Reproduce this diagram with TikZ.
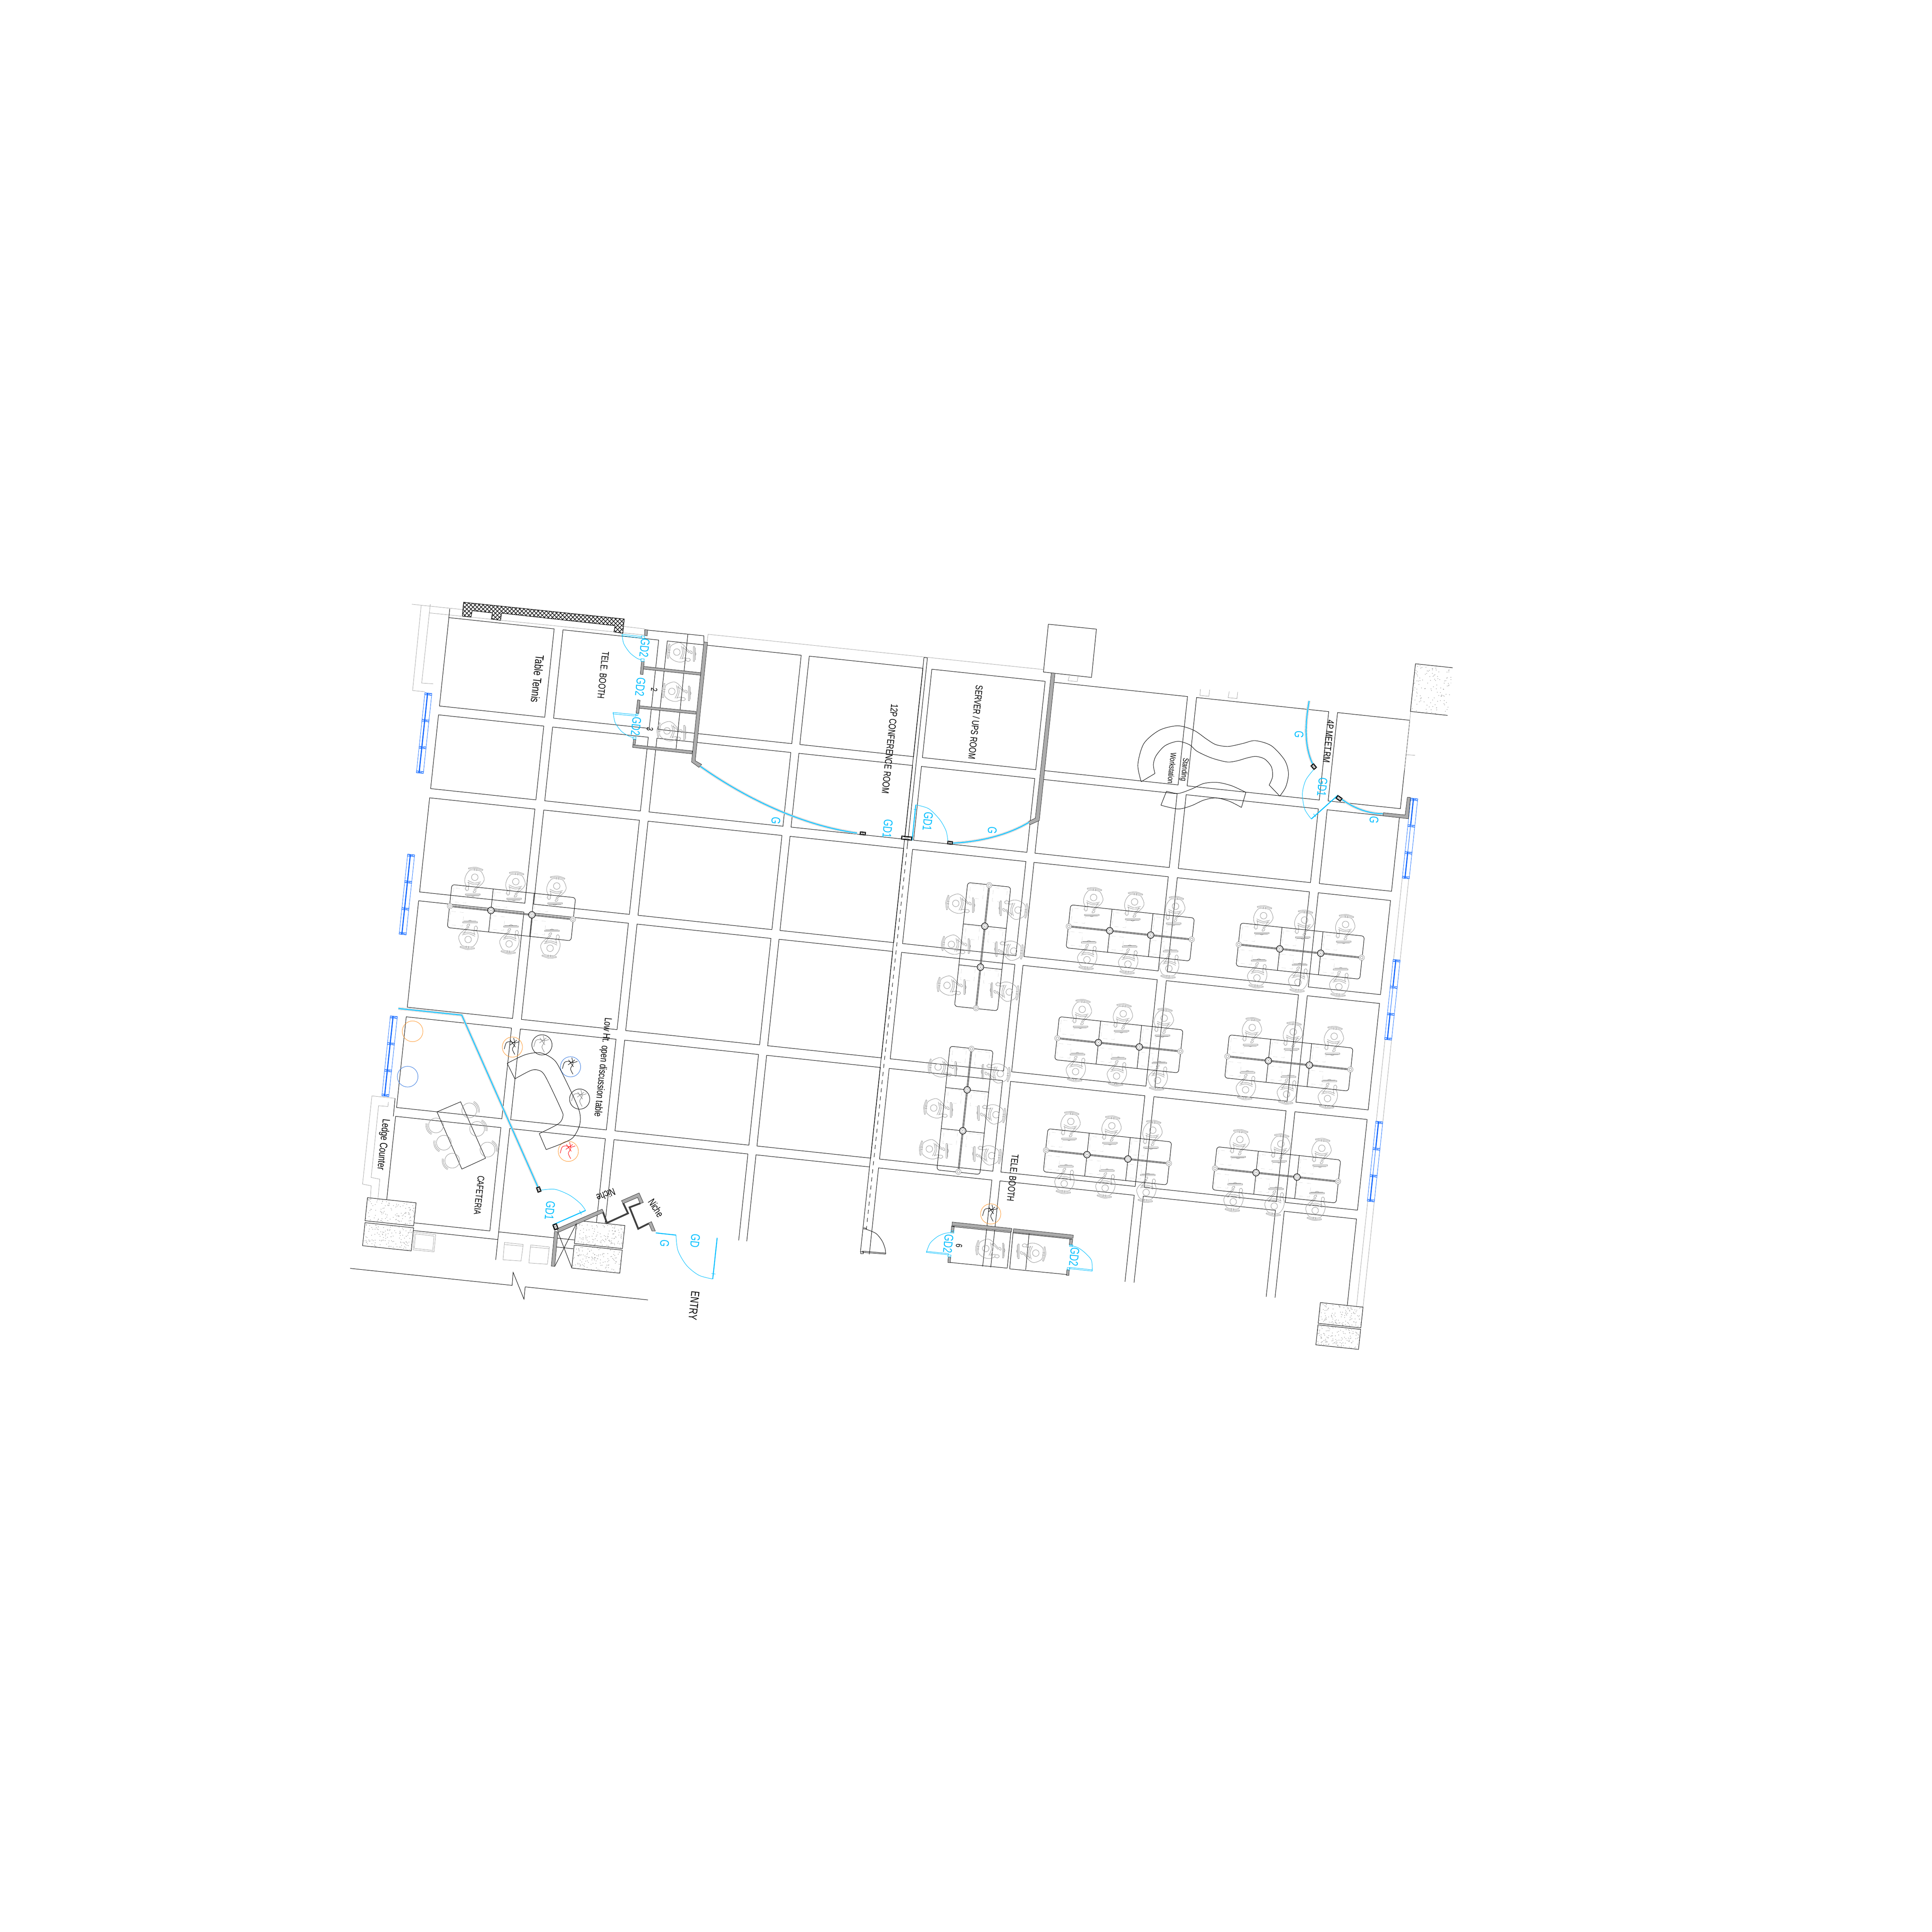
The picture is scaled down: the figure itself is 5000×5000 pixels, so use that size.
\documentclass[tikz,border=0pt]{standalone}
\usepackage{fontspec}
\setmainfont{Liberation Sans}
\usepackage{graphicx}
\usetikzlibrary{patterns}
\definecolor{glasscyan}{HTML}{00BFFF}
\definecolor{windowblue}{HTML}{0A64FF}
\definecolor{tuborange}{HTML}{FF9A33}
\definecolor{tubblue}{HTML}{3A7BE0}
\newcommand{\cadtext}[2]{{\fontsize{#1}{#1}\selectfont\scalebox{.73}[1]{#2}}}
\newcommand{\glassrun}[1]{\draw[glassedge] #1; \draw[glasscore] #1;}
\newcommand{\postbox}[4]{\begin{scope}[shift={(#1)},rotate=#4]
  \draw[postline] (-#2,-#3) rectangle (#2,#3);
  \draw[figureline] (-#2,-#3) -- (#2,#3) (-#2,#3) -- (#2,-#3);
\end{scope}}
\newcommand{\stoneblock}[4]{\begin{scope}
  \clip (#1,#2) rectangle ++(#3,#4);
  \foreach \n in {1,...,130}{
    \pgfmathsetmacro{\su}{#1+rnd*#3}
    \pgfmathsetmacro{\sv}{#2+rnd*#4}
    \fill[gray!85] (\su,\sv) circle (1);
  }
\end{scope}}
\newcommand{\winstrip}[3]{
  \draw[windowline] (#1-9,#2) rectangle (#1+9,#2+208);
  \draw[windowline,line width=.8pt] (#1-2,#2) -- (#1-2,#2+69);
  \draw[windowline,line width=#3] (#1-2,#2+69) -- (#1-2,#2+139);
  \draw[windowline,line width=.8pt] (#1-2,#2+139) -- (#1-2,#2+208);
  \foreach \j in {0,69,139,203}{
    \draw[windowline] (#1-9,#2+\j) rectangle (#1+9,#2+\j+5);
    \draw[windowline] (#1-9,#2+\j) -- (#1+9,#2+\j+5) (#1-9,#2+\j+5) -- (#1+9,#2+\j);
  }
}
\newcommand{\person}[3]{\begin{scope}[shift={(#1,#2)},rotate=#3]
  \draw[figureline] plot[smooth] coordinates {(-19,-28) (0,-32) (19,-28)};
  \draw[figureline] plot[smooth] coordinates {(-18,-25.5) (0,-29) (18,-25.5)};
  \draw[figureline] (-19,-28) -- (-18,-25.5) (19,-28) -- (18,-25.5);
  \draw[figureline] (-3,-29) -- (-3,-23) (3,-29) -- (3,-23);
  \draw[figureline] plot[smooth] coordinates {(-19,20) (-24,10) (-25,0) (-22,-12) (-14,-23) (0,-25) (14,-23) (22,-12) (25,-2) (21,8) (12,18) (4,27)};
  \draw[figureline] plot[smooth] coordinates {(13,7) (9,16) (1,26)};
  \draw[figureline] (-15,8) -- (-12,20);
  \draw[figureline] (0,-6) circle (8.5);
  \draw[figureline] plot[smooth] coordinates {(-17,4) (0,9) (17,4)};
  \draw[figureline] plot[smooth] coordinates {(-17,9) (0,13) (16,9)};
  \draw[figureline] plot[smooth cycle] coordinates {(-19,20) (-21,26) (-17,31) (-13,28) (-14,20)};
  \draw[figureline] plot[smooth] coordinates {(4,27) (0,31) (1,34) (6,32) (7,27)};
  \begin{scope}[rotate around={6.1:(0,39)}]
    \draw[figureline] (-19,37.5) rectangle (19,40.5);
    \draw[figureline] (-16,42) -- (16,42);
    \draw[figureline] (-5,42) -- (0,44) -- (5,42);
  \end{scope}
\end{scope}}
\newcommand{\deskrow}[3]{\begin{scope}[shift={(#1,#2)},rotate=#3]
  \foreach \d in {0,106.7,213.3}{
    \draw[fadedline,dashed] (\d+5,-48) rectangle (\d+40,-12);
    \draw[fadedline,dashed] (\d+3,13) rectangle (\d+38,48);
    \person{\d+56}{-75}{0}
    \person{\d+56}{75}{180}
  }
  \draw[tile,rounded corners=2] (-1,-7) -- (-1,-56) -- (321,-56) -- (321,-7);
  \draw[tile,rounded corners=2] (-1,7) -- (-1,56) -- (321,56) -- (321,7);
  \draw[tile] (106.7,-56) -- (106.7,-8) (213.3,-56) -- (213.3,-8);
  \draw[tile] (106.7,56) -- (106.7,8) (213.3,56) -- (213.3,8);
  \draw[figureline] (0,-2) -- (320,-2) (0,2) -- (320,2);
  \draw[draw=black!70,line width=.3pt] (0,-1) -- (320,-1) (0,1) -- (320,1);
  \draw[figureline,fill=white] (0,0) circle (7);
  \draw[figureline] (0,0) circle (3.5);
  \draw[figureline,fill=white] (320,0) circle (7);
  \draw[figureline] (320,0) circle (3.5);
  \foreach \d in {106.7,213.3}{
    \draw[draw=black,fill=white,line width=.4pt] (\d,0) circle (8.5);
    \draw[figureline] (\d,0) circle (5.5);
    \fill[black] (\d,0) circle (1);
  }
\end{scope}}
\newcommand{\plantmark}[3]{\begin{scope}[shift={(#1,#2)}]
  \draw[#3,line width=.3pt] plot[smooth] coordinates {(-33,8) (-25,-17) (-10,-22) (10,-17) (28,-22)};
  \draw[#3,line width=.3pt] plot[smooth] coordinates {(5,-37) (10,-12) (0,8) (10,30)};
  \draw[#3,line width=.3pt] (-8,-28) -- (12,0) (-10,-8) -- (18,-28);
\end{scope}}
\newcommand{\seatmark}[3]{\begin{scope}[shift={(#1,#2)}]
  \draw[figureline] (0,0) circle (30);
  \draw[figureline] ({#3-38}:36) arc[start angle={#3-38},end angle={#3+38},radius=36];
  \draw[figureline] ({#3-38}:41) arc[start angle={#3-38},end angle={#3+38},radius=41];
\end{scope}}
\tikzset{
  tile/.style={draw=black,line width=.3pt},
  thinwall/.style={draw=gray!75,line width=.25pt},
  figureline/.style={draw=gray!85,line width=.27pt},
  fadedline/.style={draw=gray!30,line width=.2pt},
  wallfill/.style={draw=black!85,fill=gray!65,line width=.25pt},
  nichewall/.style={draw=black!75,line width=1.3pt},
  glassedge/.style={draw=gray!75,line width=.2pt,double=white,double distance=1.3pt},
  glasscore/.style={draw=glasscyan,line width=.7pt},
  doorline/.style={draw=glasscyan,line width=.3pt},
  doorleaf/.style={draw=glasscyan,line width=.7pt},
  postline/.style={draw=black,fill=white,line width=.8pt},
  windowline/.style={draw=windowblue,line width=.25pt},
  planlabel/.style={rotate=-96.1,inner sep=0pt,align=center},
  doorlabel/.style={planlabel,text=glasscyan},
  cropNW/.style={shift={(900,1500)},scale=.63776},
  cropN/.style={shift={(1900,1500)},scale=.63776},
  cropNE/.style={shift={(2900,1600)},scale=.57398},
  cropSW/.style={shift={(900,2500)},scale=.63776},
  cropS/.style={shift={(1900,2500)},scale=.63776},
  cropEntry/.style={shift={(1400,3050)},scale=.33333}
}
\begin{document}
\begin{tikzpicture}[x=0.01cm,y=-0.01cm]
  \useasboundingbox (0,0) rectangle (5000,5000);
  \begin{scope}[rotate=-6.1]
    \foreach \ul/\ur in {1325/1599,1622/1871,1893.5/2242,2263/2559,2582/2877,2898/3247.5,3271/3615,3638/3826}{
      \foreach \vt/\vb in {1466/1696,1719/1911,1935/2180,2203/2480,2505/2741}{
        \draw[tile] (\ul,\vt) rectangle (\ur,\vb);
      }
    }
    \draw[tile] (1325,2990) -- (1325,2764) -- (1599,2764) -- (1599,3033) -- (1402,3033);
    \draw[tile] (1402,3053) -- (1622,3053);
    \draw[tile] (1871,2984) -- (1871,2764) -- (1622,2764) -- (1622,3106);
    \draw[tile] (1622,3033) -- (1819,3033);
    \draw[tile] (1770,3056) -- (1819,3056);
    \draw[tile] (1893.5,2982) -- (1893.5,2764) -- (2242,2764) -- (2242,2989);
    \draw[tile] (2263,2989) -- (2263,2764) -- (2559,2764);
    \draw[tile] (2582,2989) -- (2582,2764) -- (2877,2764) -- (2877,2989);
    \draw[tile] (2898,2989) -- (2898,2764) -- (3247.5,2764) -- (3247.5,2989);
    \draw[tile] (3271,2989) -- (3271,2764) -- (3615,2764) -- (3615,2989);
    \draw[tile] (3638,2989) -- (3638,2764) -- (3826,2764) -- (3826,2989);
    \draw[tile] (2558.5,1438) -- (2558.5,2985);
    \draw[tile] (2558.5,1438) -- (2567.5,1438) -- (2567.5,1925);
    \draw[tile,dashed] (2567.5,1925) -- (2567.5,2925);
    \draw[tile] (2558.5,2925) -- (2567.5,2925);

    \deskrow{1407}{2208}{0}
    \deskrow{3005}{2090}{0}
    \deskrow{3447.5}{2090}{0}
    \deskrow{3006.5}{2381}{0}
    \deskrow{3449}{2381}{0}
    \deskrow{3008}{2672.5}{0}
    \deskrow{3448}{2672.5}{0}
    \deskrow{2789}{2006}{-90}
    \deskrow{2788.5}{2432}{-90}
    \person{1927}{1492}{90}
    \person{1925}{1594.5}{90}
    \person{1923.5}{1697.5}{90}
    \person{2886}{2942}{90}
    \person{3004}{2940}{-90}

    \winstrip{1293}{1666}{.8pt}
    \winstrip{1293}{2086}{.8pt}
    \winstrip{1293}{2507}{.8pt}
    \winstrip{3859}{1666}{.3pt}
    \winstrip{3858}{2086}{.3pt}
    \winstrip{3858}{2507}{.3pt}
    \draw[thinwall] (3850,1874) -- (3850,2086) (3867,1874) -- (3867,2086);
    \draw[thinwall] (3850,2294) -- (3850,2507) (3867,2294) -- (3867,2507);
    \draw[thinwall] (3850,2715) -- (3850,2989) (3867,2715) -- (3867,2989);
    \draw[thinwall] (3826,1443) -- (3826,1596);

    \pgfmathsetseed{4711}
    \foreach \su/\sv/\sw/\sh in {1275/2981/126.5/60,1275.5/3046/126.5/60,1820/2982/125/60,1820/3046/125/60,3756/2989/111/54,3756/3047/111/52,3825/1319/97/124}{
      \fill[white] (\su,\sv) rectangle ++(\sw,\sh);
      \stoneblock{\su}{\sv}{\sw}{\sh}
    }
    \draw[tile] (1275,2981) rectangle ++(126.5,60);
    \draw[tile] (1275.5,3046) rectangle ++(126.5,60);
    \draw[tile] (1820,2982) rectangle ++(125,60);
    \draw[tile] (1820,3046) rectangle ++(125,60);
    \draw[tile] (3756,2989) rectangle ++(111,54);
    \draw[tile] (3756,3047) rectangle ++(111,52);
    \draw[tile] (3922,1319) -- (3825,1319) -- (3825,1443) -- (3922,1443);
  \end{scope}

  \begin{scope}[cropNW]
    \draw[thinwall] (260,100) -- (470,122);
    \draw[thinwall] (298,105) -- (263,450) -- (313,455);
    \draw[thinwall] (335,100) -- (300,420) -- (347,423);
    \draw[thinwall] (330,135) -- (1205,225);
    \draw[thinwall] (1120,190) -- (1205,200);
    \draw[thinwall] (1462,222) -- (1458,255) (1462,222) -- (1568,233);
    \draw[tile] (414,118) -- (410,155);
    \draw[draw=black,fill=white,line width=.3pt] (470,92) -- (1122,160) -- (1116,218) -- (1080,212) -- (1085,187) -- (624,136) -- (620,165) -- (583,160) -- (587,135) -- (505,126) -- (500,152) -- (465,148) -- cycle;
    \draw[draw=black,pattern=crosshatch,line width=.3pt] (470,92) -- (1122,160) -- (1116,218) -- (1080,212) -- (1085,187) -- (624,136) -- (620,165) -- (583,160) -- (587,135) -- (505,126) -- (500,152) -- (465,148) -- cycle;
    \draw[tile] (1217,205) -- (1445,228) -- (1445,253);
    \draw[tile] (1380,222) -- (1332,690);
    \draw[wallfill] (1445,253) -- (1460,255) -- (1410,735) -- (1436,750) -- (1425,762) -- (1395,740) -- cycle;
    \draw[wallfill] (1200,352) -- (1433,378) -- (1432,388) -- (1198,363) -- cycle;
    \draw[wallfill] (1183,512) -- (1413,535) -- (1412,546) -- (1182,522) -- cycle;
    \draw[wallfill] (1157,670) -- (1398,695) -- (1397,707) -- (1156,681) -- cycle;
    \draw[wallfill] (1205,203) -- (1217,204) -- (1215,228) -- (1204,226) -- cycle;
    \draw[wallfill] (1192,331) -- (1203,332) -- (1198,385) -- (1187,384) -- cycle;
    \draw[wallfill] (1176,488) -- (1186,490) -- (1181,543) -- (1170,541) -- cycle;
    \draw[wallfill] (1160,647) -- (1169,648) -- (1166,671) -- (1157,670) -- cycle;
    \draw[doorline] (1113,222) -- (1192,231) -- (1191,237) -- (1113,228) -- cycle;
    \draw[doorline] (1192,228) -- (1205,230) -- (1204,240) -- (1191,238) -- cycle;
    \draw[doorline] (1190,321) -- (1203,322) -- (1202,332) -- (1189,331) -- cycle;
    \draw[doorline] plot[smooth] coordinates {(1113,222) (1120,260) (1145,297) (1175,320) (1192,325)};
    \draw[doorline] (1077,539) -- (1170,548) -- (1169,554) -- (1077,545) -- cycle;
    \draw[doorline] (1170,544) -- (1178,545) -- (1177,552) -- (1169,551) -- cycle;
    \draw[doorline] (1158,638) -- (1170,639) -- (1169,648) -- (1157,647) -- cycle;
    \draw[doorline] plot[smooth] coordinates {(1077,540) (1085,580) (1110,615) (1140,635) (1157,640)};
  \end{scope}

  \begin{scope}[cropN]
    \draw[thinwall] (0,233) -- (1255,365);
    \draw[tile] (1275,181) -- (1470,201) -- (1450,397) -- (1255,375) -- cycle;
    \draw[thinwall] (1360,392) -- (1355,410) -- (1392,414) -- (1395,395);
    \draw[wallfill] (1287,378) -- (1302,380) -- (1238,978) -- (1200,995) -- (1193,982) -- (1222,968) -- cycle;
    \draw[doorline] plot[smooth] coordinates {(737,914) (790,930) (835,975) (860,1020) (867,1060)};
    \draw[doorleaf] (737,914) -- (722,1058);
    \draw[doorline] (729,932) -- (741,933);
    \postbox{522,1030}{10}{5}{-6}
    \postbox{700,1049}{20}{6}{-6}
    \postbox{876,1068}{9}{5}{-6}
  \end{scope}
  \glassrun{(1812,1983) .. controls (1925,2063) and (2070,2135) .. (2218,2156)}
  \glassrun{(2466,2182) .. controls (2546,2178) and (2615,2157) .. (2663,2128)}
  \glassrun{(3388,1814) .. controls (3378,1870) and (3374,1930) .. (3398,1979)}
  \glassrun{(3468,2065) .. controls (3497,2088) and (3537,2106) .. (3579,2106)}
  \glassrun{(1031,2610) -- (1195,2627) -- (1393,3074)}
  \begin{scope}[cropNE]
    \draw[thinwall] (360,320) -- (358,348) -- (398,352) -- (402,322);
    \draw[thinwall] (490,330) -- (485,358) -- (525,362) -- (528,332);
    \draw[tile] plot[smooth] coordinates {(93,737) (78,660) (105,565) (175,505) (258,485) (330,505) (388,545) (430,570) (485,578) (550,565) (607,552) (680,575) (740,640) (757,700) (745,760) (718,802)};
    \draw[tile] plot[smooth] coordinates {(670,752) (685,715) (680,670) (650,635) (610,623) (570,630) (525,643) (480,648) (410,630) (345,600) (310,570) (258,555) (200,575) (160,620) (148,660) (155,700)};
    \draw[tile] (93,737) -- (155,700) (670,752) -- (718,802);
    \draw[tile] plot[smooth] coordinates {(207,780) (260,790) (320,770) (375,745) (435,740) (500,755) (565,785)};
    \draw[tile] plot[smooth] coordinates {(182,843) (260,860) (320,845) (375,820) (430,810) (490,825) (545,853)};
    \draw[tile] (207,780) -- (182,843) (565,785) -- (545,853);
    \draw[wallfill] (1293,807) -- (1307,808) -- (1298,904) -- (1183,891) -- (1185,877) -- (1283,887) -- cycle;
    \draw[doorline] plot[smooth] coordinates {(870,683) (835,730) (820,790) (830,860) (860,905)};
    \draw[doorleaf] (860,905) -- (980,798);
    \draw[doorline] (870,882) -- (880,896);
    \draw[thinwall] (1285,615) -- (1328,618);
    \postbox{871,669}{10}{7}{-50}
    \postbox{985,812}{11}{7}{-35}
  \end{scope}

  \begin{scope}[cropSW]
    \draw[tuborange,line width=.3pt] (263,265) circle (42);
    \draw[tubblue,line width=.3pt] (243,449) circle (42);
    \draw[tuborange,line width=.3pt] (668,329) circle (41);
    \draw[black,line width=.3pt] (788,320) circle (41);
    \draw[tubblue,line width=.3pt] (904,409) circle (41);
    \draw[black,line width=.3pt] (941,540) circle (41);
    \draw[tuborange,line width=.3pt] (895,752) circle (41);
    \plantmark{668}{329}{black}
    \plantmark{788}{320}{gray}
    \plantmark{904}{409}{black}
    \plantmark{941}{540}{gray}
    \plantmark{895}{752}{red}
    \draw[tile] plot[smooth] coordinates {(647,395) (720,360) (780,352) (830,375) (860,415) (935,575) (942,640) (915,695) (870,720) (805,745)};
    \draw[tile] plot[smooth] coordinates {(678,458) (740,425) (770,422) (800,445) (865,580) (873,610) (855,640) (777,680)};
    \draw[tile] (647,395) -- (678,458) (805,745) -- (777,680);
    \draw[tile] (362,592) -- (458,551) -- (559,780) -- (463,824) -- cycle;
    \seatmark{493}{586}{-25}
    \seatmark{525}{661}{-25}
    \seatmark{567}{745}{-25}
    \seatmark{358}{647}{155}
    \seatmark{390}{717}{155}
    \seatmark{424}{790}{155}
    \draw[thinwall] (192,537) -- (98,527) -- (60,885) -- (95,892) -- (92,940);
    \draw[thinwall] (165,552) -- (163,570) -- (125,567) -- (95,858) -- (130,865) -- (123,940);
    \draw[tile] (192,537) -- (185,610);
    \draw[thinwall] (270,1080) -- (357,1090) -- (350,1160) -- (265,1152) -- cycle;
    \draw[thinwall] (275,1087) -- (350,1096) -- (345,1154) -- (270,1146) -- cycle;
    \draw[thinwall] (636,1122) -- (712,1130) -- (703,1197) -- (630,1192) -- cycle;
    \draw[thinwall] (635,1130) -- (711,1137);
    \draw[thinwall] (742,1132) -- (818,1140) -- (810,1210) -- (735,1205) -- cycle;
    \draw[thinwall] (741,1140) -- (817,1147);
    \draw[tile] (10,1227) -- (667,1296) -- (671,1243) -- (715,1352) -- (720,1302) -- (1218,1355);
    \draw[doorline] plot[smooth] coordinates {(780,910) (840,906) (900,930) (945,965) (965,992)};
    \draw[doorleaf] (833,1050) -- (965,992);
    \draw[doorline] (940,992) -- (948,1008);
    \draw[doorleaf] (1250,1083) -- (1332,1092);
    \draw[doorline] plot[smooth] coordinates {(1332,1092) (1340,1155) (1375,1215) (1425,1255) (1481,1270)};
    \draw[doorleaf] (1481,1270) -- (1499,1103);
    \draw[doorline] (1476,1248) -- (1492,1250);
    \postbox{775,907}{9}{6}{-70}
  \end{scope}

  \begin{scope}[cropEntry]
    \draw[wallfill] (105,410) -- (132,415) -- (107,682) -- (80,680) -- cycle;
    \draw[wallfill] (125,390) -- (475,238) -- (487,262) -- (135,418) -- cycle;
    \draw[nichewall] (482,262) -- (512,345) -- (676,270) -- (638,190);
    \draw[wallfill] (625,172) -- (762,112) -- (795,186) -- (770,195) -- (750,147) -- (638,195) -- cycle;
    \draw[nichewall] (772,192) -- (688,224) -- (755,390) -- (835,350);
    \draw[wallfill] (835,345) -- (858,335) -- (888,408) -- (862,408) -- cycle;
    \draw[tile] (133,420) -- (240,695) (107,682) -- (275,350);
    \postbox{112,378}{17}{12}{-70}
  \end{scope}

  \begin{scope}[cropS]
    \draw[tile] (525,1062) -- (537,1065);
    \draw[tile] plot[smooth] coordinates {(535,1068) (575,1085) (600,1115) (612,1145) (615,1168)};
    \draw[tile] (520,1157) -- (615,1165) (520,1162) -- (615,1169);
    \draw[tile] (513,1160) rectangle (525,1167);
    \draw[tuborange,line width=.3pt] (1041,1006) circle (41);
    \plantmark{1041}{1006}{black}
    \draw[wallfill] (885,1039) -- (1127,1065) -- (1125,1078) -- (884,1053) -- cycle;
    \draw[wallfill] (1134,1066) -- (1376,1092) -- (1375,1105) -- (1132,1080) -- cycle;
    \draw[wallfill] (882,1055) -- (893,1056) -- (891,1080) -- (880,1079) -- cycle;
    \draw[wallfill] (869,1180) -- (879,1181) -- (877,1204) -- (867,1203) -- cycle;
    \draw[wallfill] (1362,1108) -- (1374,1109) -- (1371,1132) -- (1360,1131) -- cycle;
    \draw[wallfill] (1350,1233) -- (1360,1234) -- (1358,1256) -- (1348,1255) -- cycle;
    \draw[tile] (884,1057) -- (1123,1082);
    \draw[tile] (1123,1078) -- (1108,1226) -- (877,1203);
    \draw[tile] (1132,1080) -- (1118,1229) -- (1350,1252);
    \draw[tile] (1132,1083) -- (1370,1108);
    \draw[tile] (1197,1085) -- (1183,1233);
    \draw[doorline] (780,1162) -- (870,1172) -- (869,1167) -- (781,1158) -- cycle;
    \draw[doorline] (868,1172) -- (880,1173) -- (879,1181) -- (867,1180) -- cycle;
    \draw[doorline] (880,1074) -- (892,1075) -- (891,1084) -- (879,1083) -- cycle;
    \draw[doorline] plot[smooth] coordinates {(780,1162) (795,1125) (825,1098) (855,1085) (880,1082)};
    \draw[doorline] (1360,1228) -- (1453,1238) -- (1453,1233) -- (1361,1223) -- cycle;
    \draw[doorline] (1352,1224) -- (1362,1225) -- (1361,1233) -- (1351,1232) -- cycle;
    \draw[doorline] (1362,1131) -- (1374,1132) -- (1373,1139) -- (1361,1138) -- cycle;
    \draw[doorline] plot[smooth] coordinates {(1453,1238) (1450,1195) (1425,1165) (1395,1143) (1362,1133)};
  \end{scope}
  \begin{scope}[cropSW]
    \postbox{843,1058}{10}{7}{-70}
  \end{scope}

  \node[planlabel] (tableTennis) at (1391,1757) {\cadtext{8.6}{Table Tennis}};
  \node[planlabel] (boothNorth) at (1561,1747) {\cadtext{7.2}{TELE. BOOTH}};
  \node[planlabel] (confRoom) at (2303,1938) {\cadtext{7.3}{12P CONFERENCE ROOM}};
  \node[planlabel] (serverRoom) at (2525,1869) {\cadtext{7.2}{SERVER / UPS ROOM}};
  \node[planlabel] (meetRoom) at (3438,1919) {\cadtext{7.2}{4P MEET.RM}};
  \node[planlabel] (standing) at (3050,1990) {\cadtext{5.9}{Standing}\\[-2.4pt]\cadtext{5.9}{Workstation}};
  \node[planlabel] (lowTable) at (1559,2762) {\cadtext{7.5}{Low Ht. open discussion table}};
  \node[planlabel] (ledge) at (991,2962) {\cadtext{7.8}{Ledge Counter}};
  \node[planlabel] (cafeteria) at (1240,3093) {\cadtext{7}{CAFETERIA}};
  \node[planlabel] (boothSouth) at (2621,3048) {\cadtext{7.2}{TELE. BOOTH}};
  \node[planlabel] (entry) at (1796,3379) {\cadtext{8.6}{ENTRY}};
  \node[inner sep=0pt,rotate=201] (nicheOne) at (1568,3092) {\cadtext{7.6}{Niche}};
  \node[inner sep=0pt,rotate=-57] (nicheTwo) at (1698,3126) {\cadtext{7.6}{Niche}};
  \node[planlabel] (numTwo) at (1693,1785) {\cadtext{6.5}{2}};
  \node[planlabel] (numThree) at (1682,1887) {\cadtext{6.5}{3}};
  \node[planlabel] (numSix) at (2482,3224) {\cadtext{6.5}{6}};
  \node[doorlabel] (gdA) at (1668,1677) {\cadtext{9.2}{GD2}};
  \node[doorlabel] (gdB) at (1657,1778) {\cadtext{9.2}{GD2}};
  \node[doorlabel] (gdC) at (1646,1880) {\cadtext{9.2}{GD2}};
  \node[doorlabel] (gdD) at (2297,2145) {\cadtext{9.2}{GD1}};
  \node[doorlabel] (gdE) at (2401,2126) {\cadtext{9.2}{GD1}};
  \node[doorlabel] (gdF) at (3422,2037) {\cadtext{9.2}{GD1}};
  \node[doorlabel] (gdG) at (1423,3133) {\cadtext{9.2}{GD1}};
  \node[doorlabel] (gdH) at (1799,3211) {\cadtext{9.2}{GD}};
  \node[doorlabel] (gdI) at (2454,3219) {\cadtext{9.2}{GD2}};
  \node[doorlabel] (gdJ) at (2780,3253) {\cadtext{9.2}{GD2}};
  \node[doorlabel] (glassA) at (2008,2124) {\cadtext{9.2}{G}};
  \node[doorlabel] (glassB) at (2568,2149) {\cadtext{9.2}{G}};
  \node[doorlabel] (glassC) at (3362,1901) {\cadtext{9.2}{G}};
  \node[doorlabel] (glassD) at (3556,2122) {\cadtext{9.2}{G}};
  \node[doorlabel] (glassE) at (1720,3218) {\cadtext{9.2}{G}};
\end{tikzpicture}
\end{document}
